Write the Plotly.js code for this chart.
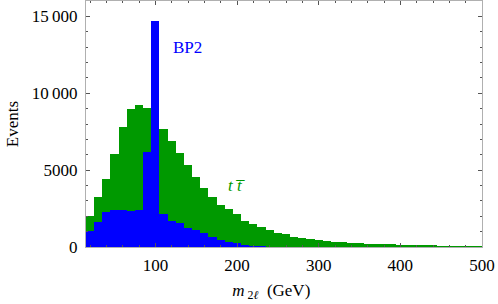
<!DOCTYPE html>
<html>
<head>
<meta charset="utf-8">
<script src="https://cdn.plot.ly/plotly-3.0.1.min.js"></script>
<style>html,body{margin:0;padding:0;background:#fff;}#chart{width:498px;height:304px;}</style>
</head>
<body>
<div id="chart"></div>
<script>
// Bin centres (GeV), bin width 10
const binCenters = [20,30,40,50,60,70,80,90,100,110,120,130,140,150,160,170,180,190,200,210,220,230,240,250,260,270,280,290,300,310,320,330,340,350,360,370,380,390,400,410,420,430,440,450,460,470,480,490,500];
// t tbar background events
const ttbarEvents = [2010,3270,4420,6020,7830,9000,9260,9050,8400,7650,6880,6100,5320,4570,3850,3260,2720,2460,2130,1700,1490,1280,1080,905,820,670,580,500,455,410,346,305,265,240,215,200,190,170,150,135,125,110,105,90,85,70,65,50,45];
// BP2 signal events
const bp2Events = [1040,1640,2250,2420,2400,2360,2420,6170,14700,2165,1670,1570,1255,1090,900,645,455,346,238,130,87,45,null,null,null,null,null,null,null,null,null,null,null,null,null,null,null,null,null,null,null,null,null,null,null,null,null,null,null];
const yTickVals = [0,5000,10000,15000];
const yTickText = ["0","5000","10\u2009000","15\u2009000"];
const xTickVals = [100,200,300,400,500];

const serif = "Liberation Serif";
const frame = "#b0b0b0";

const traces = [
  {type:"bar", x:binCenters, y:ttbarEvents, width:10, name:"tt",
   marker:{color:"#009900", line:{width:0}}},
  {type:"bar", x:binCenters, y:bp2Events, width:10, name:"BP2",
   marker:{color:"#0000ff", line:{width:0}}}
];

const layout = {
  width:498, height:304,
  margin:{l:86, r:16, t:1, b:57},
  paper_bgcolor:"#fff", plot_bgcolor:"#fff",
  barmode:"overlay", bargap:0, showlegend:false,
  font:{family:serif, size:17, color:"#000"},
  xaxis:{
    range:[15,500], tickvals:xTickVals, ticks:"inside", ticklen:4, tickcolor:"#555",
    showline:true, linecolor:frame, linewidth:1, mirror:"allticks",
    showgrid:false, zeroline:false, ticklabelstandoff:3,
    minor:{dtick:20, tick0:0, ticks:"inside", ticklen:2, tickcolor:"#555", showgrid:false},
    tickfont:{family:serif, size:17},
    title:{text:"<i>m</i><sub> 2<i>ℓ</i></sub>\u00a0\u00a0(GeV)<span style=\"color:rgba(255,255,255,0)\">(Ge</span>", font:{family:serif, size:17}, standoff:9}
  },
  yaxis:{
    range:[0,16000], tickvals:yTickVals, ticktext:yTickText, ticks:"inside", ticklen:4, tickcolor:"#555",
    showline:true, linecolor:frame, linewidth:1, mirror:"allticks",
    showgrid:false, zeroline:false, ticklabelstandoff:4,
    minor:{dtick:1000, tick0:0, ticks:"inside", ticklen:2, tickcolor:"#555", showgrid:false},
    tickfont:{family:serif, size:17},
    title:{text:"Events", font:{family:serif, size:17}, standoff:8}
  },
  annotations:[
    {x:139, y:12975, xref:"x", yref:"y", text:"BP2", showarrow:false,
     font:{family:serif, size:17, color:"#0000ff"}},
    {x:199, y:4030, xref:"x", yref:"y", text:"<i>t</i> <i>t\u0305</i>", showarrow:false,
     font:{family:serif, size:17, color:"#009900"}}
  ]
};

Plotly.newPlot("chart", traces, layout, {displayModeBar:false, staticPlot:true});
</script>
</body>
</html>
